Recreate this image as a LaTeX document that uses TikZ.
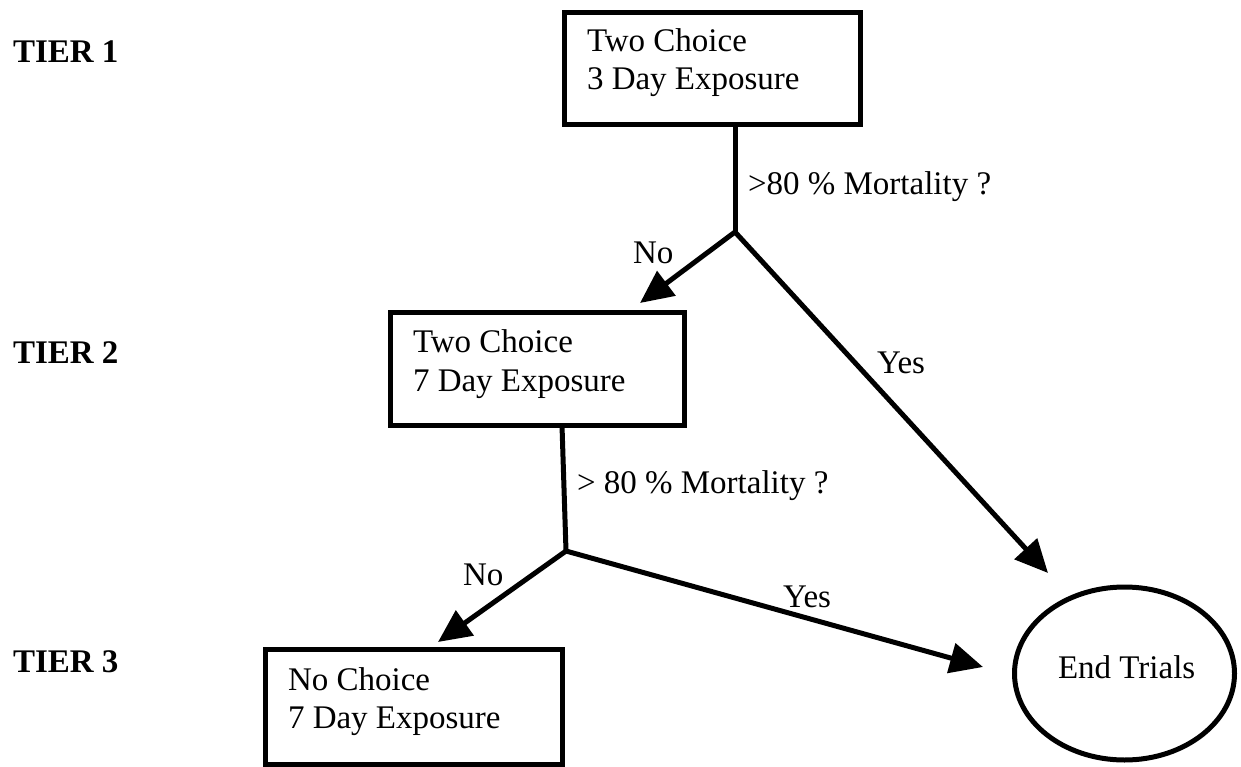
\documentclass[tikz,border=0pt]{standalone}
\usepackage{fontspec}
\setmainfont{Liberation Serif}
\usetikzlibrary{arrows.meta,shapes.geometric}
\begin{document}
\begin{tikzpicture}[x=1pt,y=-1pt,
  every node/.style={inner sep=0pt,outer sep=0pt,font=\fontsize{33}{38}\selectfont},
  boxline/.style={draw,line width=5pt},
  txt/.style={anchor=base west},
  tier/.style={anchor=base west,font=\fontsize{33}{38}\selectfont\bfseries},
  conn/.style={line width=5pt},
  arr/.style={line width=5pt,-{Triangle[length=33pt,width=30pt]}}]
\useasboundingbox (0,0) rectangle (1241,767);
% boxes
\node[boxline,rectangle,minimum width=295.5pt,minimum height=112pt,anchor=north west] (b1) at (564.5,12.5) {};
\node[boxline,rectangle,minimum width=294pt,minimum height=113pt,anchor=north west] (b2) at (390.5,312.5) {};
\node[boxline,rectangle,minimum width=297.5pt,minimum height=115pt,anchor=north west] (b3) at (265,649.5) {};
\node[boxline,ellipse,minimum width=220pt,minimum height=173pt] (end) at (1124.5,673.5) {};
% texts
\node[txt] (t1a) at (587,52) {Two Choice};
\node[txt] (t1b) at (587,90) {3 Day Exposure};
\node[txt] (t2a) at (413,352) {Two Choice};
\node[txt] (t2b) at (413,391) {7 Day Exposure};
\node[txt] (t3a) at (288,690) {No Choice};
\node[txt] (t3b) at (288,728) {7 Day Exposure};
\node[txt] (endt) at (1058,678) {End Trials};
\node[tier] (tier1) at (13,63) {TIER 1};
\node[tier] (tier2) at (13,363) {TIER 2};
\node[tier] (tier3) at (13,672) {TIER 3};
\node[txt] (m1) at (748,195) {>80 \% Mortality ?};
\node[txt] (m2) at (577,493) {> 80 \% Mortality ?};
\node[txt] (no1) at (633,263) {No};
\node[txt] (yes1) at (877,373) {Yes};
\node[txt] (no2) at (463,585) {No};
\node[txt] (yes2) at (783,607) {Yes};
% junctions and arrow ends
\coordinate (j1) at (735,232);
\coordinate (s1) at (735,124.5);
\coordinate (j2) at (566,551);
\coordinate (s2) at (562,425.5);
\coordinate (e1) at (640,303);
\coordinate (e2) at (1048,573);
\coordinate (e3) at (438,642);
\coordinate (e4) at (983,667);
% connectors
\draw[conn] (s1) -- (j1);
\draw[arr] (j1) -- (e1);
\draw[arr] (j1) -- (e2);
\draw[conn] (s2) -- (j2);
\draw[arr] (j2) -- (e3);
\draw[arr] (j2) -- (e4);
\end{tikzpicture}
\end{document}
